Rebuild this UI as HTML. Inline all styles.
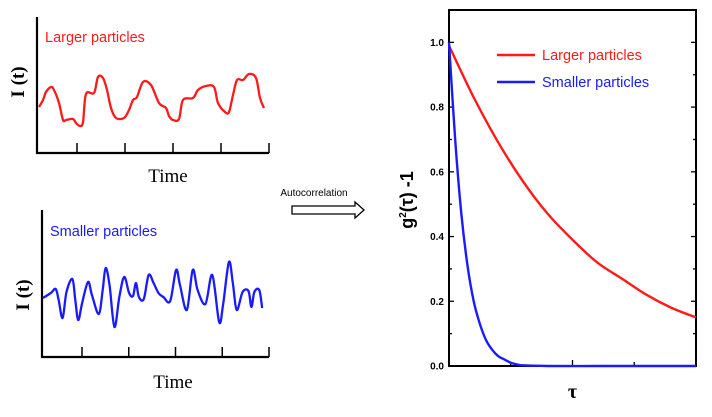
<!DOCTYPE html>
<html><head><meta charset="utf-8"><style>
body{margin:0;background:#fff;width:712px;height:417px;overflow:hidden;font-family:"Liberation Sans",sans-serif}
svg{display:block}
</style></head><body>
<svg width="712" height="417" viewBox="0 0 712 417">
<g id="left"></g>
<g>
<text x="314" y="196" font-size="10" text-anchor="middle" font-family="Liberation Sans">Autocorrelation</text>
<path d="M292,206 L355,206 L355,202 L364,210 L355,218 L355,214 L292,214 Z" fill="#fff" stroke="#000" stroke-width="1.3"/>
</g>
<g id="right"></g>
</svg>
<script>
const NS="http://www.w3.org/2000/svg";
function mk(p,t,a){const e=document.createElementNS(NS,t);for(const k in a)e.setAttribute(k,a[k]);p.appendChild(e);return e;}
// Left panel data (time units 0..232, intensity arbitrary units)
const largeTime=[1,5,8,13,16,21,25,28,35,38,42,45,48,56,60,65,69,73,78,86,91,95,99,105,113,121,128,131,135,141,145,155,160,168,176,180,187,191,195,199,205,211,218,222,226];
const largeIntensity=[46,53,61,66,63,50,33,33,34,30,27,31,59,60,76,75,63,45,35,35,43,53,56,71,68,50,45,37,33,34,53,55,63,67,66,50,41,41,58,73,73,79,75,55,45];
const smallTime=[0,8,13,16,20,24,30,33,36,40,46,50,57,61,64,68,73,78,83,88,92,95,98,103,108,113,118,123,130,136,140,147,153,158,166,173,180,184,190,194,198,204,210,213,216,221,224];
const smallIntensity=[59,64,68,57,39,65,78,57,37,54,75,62,43,67,89,72,30,60,80,64,61,74,60,58,82,74,64,60,56,87,72,47,87,67,53,82,35,52,95,74,47,65,66,50,65,67,49];
// Right chart data
const tauLarge=[0,0.1,0.2,0.3,0.4,0.5,0.6,0.7,0.8,0.9,1.0];
const gLarge=[0.99,0.83,0.69,0.57,0.47,0.39,0.32,0.27,0.22,0.18,0.15];
const tauSmall=[0,0.025,0.05,0.075,0.1,0.125,0.15,0.175,0.2,0.225,0.25,0.275,0.3,0.4,0.6,0.8,1.0];
const gSmall=[1.0,0.7,0.47,0.31,0.2,0.13,0.08,0.05,0.03,0.02,0.01,0.005,0.002,0,0,0,0];
const yTicks=["0.0","0.2","0.4","0.6","0.8","1.0"];

function smooth(pts){let d='M'+pts[0][0]+','+pts[0][1];
  for(let i=0;i<pts.length-1;i++){const p0=pts[i-1]||pts[i],p1=pts[i],p2=pts[i+1],p3=pts[i+2]||p2;
    const c1=[p1[0]+(p2[0]-p0[0])/6,p1[1]+(p2[1]-p0[1])/6],c2=[p2[0]-(p3[0]-p1[0])/6,p2[1]-(p3[1]-p1[1])/6];
    d+=` C${c1[0]},${c1[1]} ${c2[0]},${c2[1]} ${p2[0]},${p2[1]}`;}
  return d;}

const L=document.getElementById('left');
function panel(x0,len,yTop,yBot,times,vals,color,label,labelY,timeY,iY,name){
  const g=mk(L,'g',{});
  
  
  const xs=t=>x0+t*(len/232)+1, ys=v=>yBot-v;
  const ax=mk(g,'path',{d:`M${x0},${yTop} L${x0},${yBot} L${x0+len},${yBot}`,fill:'none',stroke:'#000','stroke-width':2.2});
  
  
  for(let i=0;i<5;i++){const tx=x0+len-(4-i)*(len-40)/4;const t=mk(g,'line',{x1:tx,x2:tx,y1:yBot,y2:yBot-10,stroke:'#000','stroke-width':1.5});
    
    }
  const ln=mk(g,'path',{d:smooth(times.map((t,i)=>[xs(t),ys(vals[i])])),fill:'none',stroke:color,'stroke-width':2.3,'stroke-linejoin':'round'});
  
  
  const lb=mk(g,'text',{x:x0+8,y:labelY,fill:color,'font-size':14.5,'font-family':'Liberation Sans'});lb.textContent=label;
  
  
  const tm=mk(g,'text',{x:x0+131,y:timeY,'font-size':19,'text-anchor':'middle','font-family':'Liberation Serif'});tm.textContent='Time';
  
  
  const it=mk(g,'text',{x:0,y:0,'font-size':19,'font-weight':'bold','text-anchor':'middle','font-family':'Liberation Serif',transform:`translate(${x0-13},${iY}) rotate(-90)`});it.textContent='I (t)';
  
  
}
panel(37,232,17,153,largeTime,largeIntensity,'#ff1a1a','Larger particles',42,182,82,'larger-particles-panel');
panel(42,227,210,357,smallTime,smallIntensity,'#1a1aff','Smaller particles',236,388,295,'smaller-particles-panel');

const R=document.getElementById('right');
const X0=449,X1=696,Y0=366,Y1=10;
const xS=t=>X0+t*(X1-X0), yS=v=>Y0-v*(Y0-Y1)/1.1;
const fr=mk(R,'rect',{x:X0,y:Y1,width:X1-X0,height:Y0-Y1,fill:'none',stroke:'#000','stroke-width':2});


for(let i=0;i<=11;i++){const y=yS(i*0.1),len=i%2?3:5;
  mk(R,'line',{x1:X0,x2:X0+len,y1:y,y2:y,stroke:'#000','stroke-width':1.3});
  mk(R,'line',{x1:X1,x2:X1-len,y1:y,y2:y,stroke:'#000','stroke-width':1.3});}
yTicks.forEach((s,i)=>{const t=mk(R,'text',{x:X0-5,y:yS(i*0.2)+3.5,'font-size':10,'font-weight':'bold','text-anchor':'end','font-family':'Liberation Sans'});t.textContent=s;
  
  });
[0.25,0.5,0.75].forEach((t,i)=>{mk(R,'line',{x1:xS(t),x2:xS(t),y1:Y0,y2:Y0-(i==1?6:4),stroke:'#000','stroke-width':1.3});});
function curve(ts,vs,c,name){const p=mk(R,'path',{d:smooth(ts.map((t,i)=>[xS(t),yS(vs[i])])),fill:'none',stroke:c,'stroke-width':2.4,'stroke-linejoin':'round'});
  
  }
curve(tauLarge,gLarge,'#ff1a1a','larger-particles-curve');
curve(tauSmall,gSmall,'#1a1aff','smaller-particles-curve');
[['#ff1a1a','Larger particles',55],['#1a1aff','Smaller particles',82]].forEach(([c,s,y])=>{
  const g=mk(R,'g',{});
  
  
  mk(g,'line',{x1:497,x2:535,y1:y,y2:y,stroke:c,'stroke-width':2.4});
  const t=mk(g,'text',{x:542,y:y+5,fill:c,'font-size':14.5,'font-family':'Liberation Sans'});t.textContent=s;});
const yt=mk(R,'text',{x:0,y:0,'font-size':18,'font-weight':'bold','text-anchor':'middle','font-family':'Liberation Sans',transform:'translate(413,200) rotate(-90)'});
yt.innerHTML='g<tspan font-size="10" dy="-7">2</tspan><tspan dy="7">(τ) -1</tspan>';


const xt=mk(R,'text',{x:xS(0.5),y:398,'font-size':20,'font-weight':'bold','text-anchor':'middle','font-family':'Liberation Serif'});xt.textContent='τ';


</script>
</body></html>
